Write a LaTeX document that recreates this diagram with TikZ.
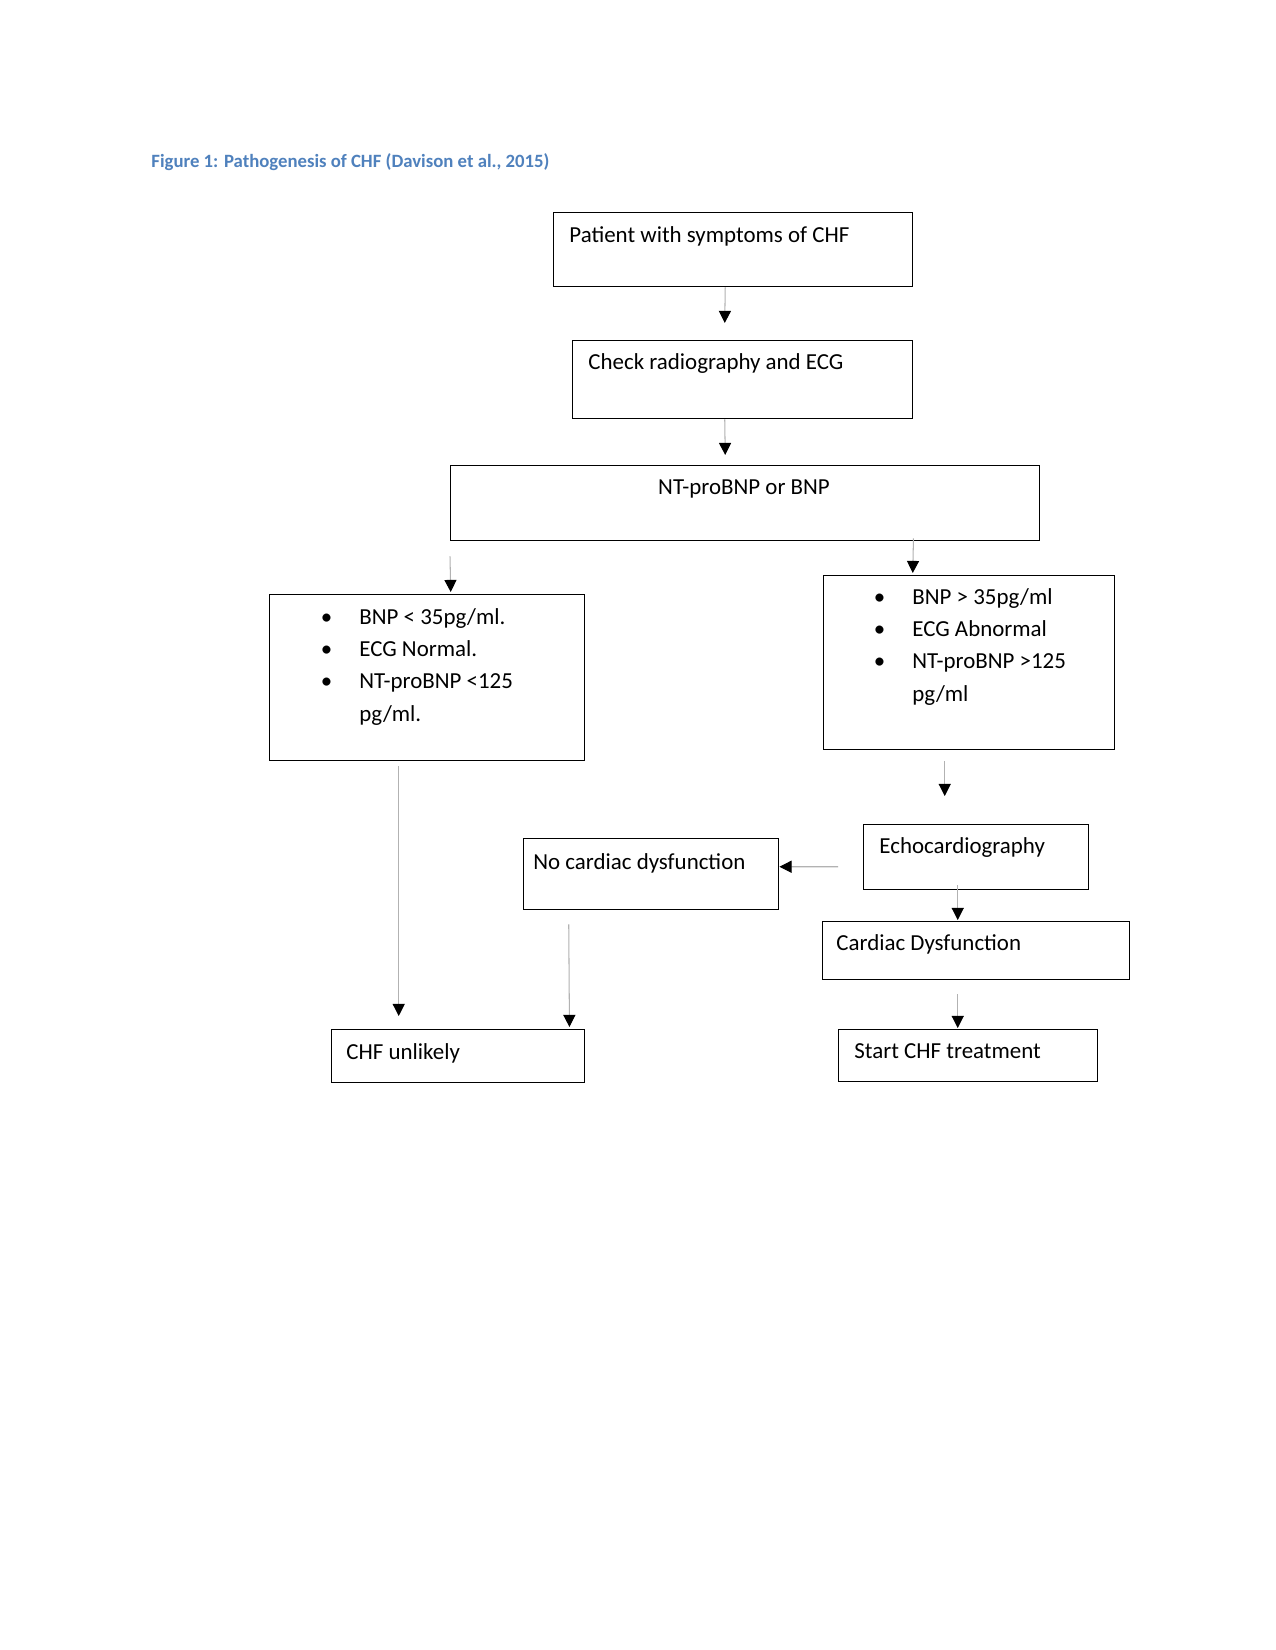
\documentclass[tikz,border=0pt]{standalone}
\usepackage{fontspec}
\setmainfont{Carlito}
\usepackage{tikz}
\usetikzlibrary{calc}
\usetikzlibrary{arrows.meta}
\definecolor{captionblue}{HTML}{4F81BD}
\newcommand{\pxu}{0.48pt}
\newcommand{\itembullet}{\llap{\makebox[31.6pt]{•}}}

\begin{document}
\begin{tikzpicture}[x=0.48pt, y={(0pt,-0.48pt)},
    box/.style={draw, line width=0.7pt, anchor=north west, inner sep=0pt},
    txt/.style={anchor=base west, inner sep=0pt, align=left, font=\fontsize{11}{15.5}\selectfont},
    arr/.style={draw=gray!60, line width=0.5pt, -{Triangle[color=black, width=5.8pt, length=5.8pt]}}]
    \path[use as bounding box, fill=white] (0,0) rectangle (1275,1650);

    \node[anchor=base west, inner sep=0pt, text=captionblue, font=\bfseries\fontsize{9}{11}\selectfont] (caption) at (151,168) {Figure 1: Pathogenesis of CHF (Davison et al., 2015)};

    \node[box, minimum width=359*\pxu, minimum height=74*\pxu] (patient) at (553,212) {};
    \node[box, minimum width=340*\pxu, minimum height=78*\pxu] (check) at (572,340) {};
    \node[box, minimum width=589*\pxu, minimum height=75*\pxu] (bnp) at (450,465) {};
    \node[box, minimum width=315*\pxu, minimum height=166*\pxu] (low) at (269,594) {};
    \node[box, minimum width=291*\pxu, minimum height=174*\pxu] (high) at (823,575) {};
    \node[box, minimum width=225*\pxu, minimum height=65*\pxu] (echo) at (863,824) {};
    \node[box, minimum width=255*\pxu, minimum height=71*\pxu] (nodys) at (523,838) {};
    \node[box, minimum width=307*\pxu, minimum height=58*\pxu] (cardiac) at (822,921) {};
    \node[box, minimum width=253*\pxu, minimum height=53*\pxu] (unlikely) at (331,1029) {};
    \node[box, minimum width=259*\pxu, minimum height=52*\pxu] (start) at (838,1029) {};

    % lists are placed by the baseline of their last line
    \node[txt] (patientText) at (569,243) {Patient with symptoms of CHF};
    \node[txt] (checkText) at (588,370) {Check radiography and ECG};
    \node[txt, anchor=base] (bnpText) at (744,494) {NT-proBNP or BNP};
    \node[txt] (lowText) at (359,721) {\itembullet BNP < 35pg/ml.\\ \itembullet ECG Normal.\\ \itembullet NT-proBNP <125\\ pg/ml.};
    \node[txt] (highText) at (912,701) {\itembullet BNP > 35pg/ml\\ \itembullet ECG Abnormal\\ \itembullet NT-proBNP >125\\ pg/ml};
    \node[txt] (echoText) at (879,853) {Echocardiography};
    \node[txt] (nodysText) at (533,869) {No cardiac dysfunction};
    \node[txt] (cardiacText) at (836,950) {Cardiac Dysfunction};
    \node[txt] (unlikelyText) at (346,1059) {CHF unlikely};
    \node[txt] (startText) at (854,1058) {Start CHF treatment};

    \draw[arr] ($(patient.south)+(-8,0)$) -- ($(check.north)+(-18,-17)$);
    \draw[arr] ($(check.south)+(-18,0)$) -- ($(bnp.north)+(-20,-10)$);
    \draw[arr] ($(bnp.south west)+(0,15)$) -- ($(low.north)+(23.5,-2)$);
    \draw[arr] ($(bnp.south east)+(-127,-3)$) -- ($(high.north)+(-56.5,-2)$);
    \draw[arr] ($(high.south)+(-24.5,11)$) -- ($(echo.north)+(-31.5,-28)$);
    \draw[arr] ($(echo.west)+(-25,9.5)$) -- ($(nodys.east)+(0,-7.5)$);
    \draw[arr] ($(echo.south)+(-18.5,-5)$) -- ($(cardiac.north)+(-18.5,-1)$);
    \draw[arr] ($(cardiac.south)+(-18.5,14)$) -- ($(start.north)+(-10.5,-1)$);
    \draw[arr] ($(low.south)+(-28.5,5)$) -- ($(unlikely.north)+(-59.5,-13)$);
    \draw[arr] ($(nodys.south)+(-82.5,14)$) -- ($(unlikely.north east)+(-16,-2)$);
  \end{tikzpicture}
\end{document}
